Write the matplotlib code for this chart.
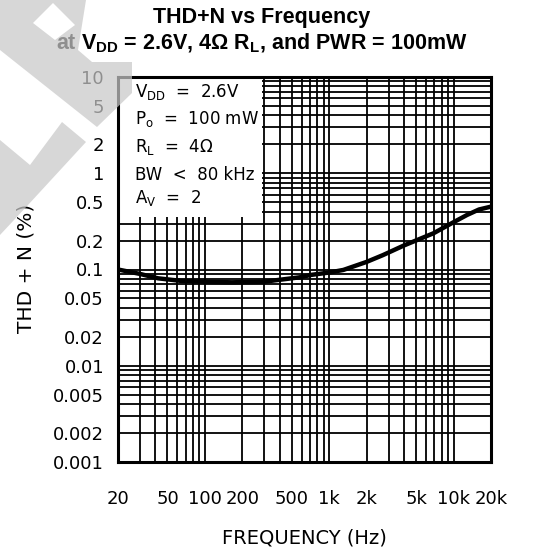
import matplotlib
matplotlib.use("Agg")
import matplotlib.pyplot as plt
from matplotlib.patches import Polygon, Rectangle

# THD+N curve
freq = [20, 30, 42, 65, 100, 165, 300, 580, 720, 1000, 1300, 2000, 2700,
        4000, 6900, 10000, 12800, 16000, 20000]
thdn = [0.100, 0.090, 0.081, 0.076, 0.0745, 0.0736, 0.0747, 0.083, 0.088,
        0.093, 0.099, 0.120, 0.141, 0.178, 0.238, 0.310, 0.368, 0.420, 0.450]

# tick labels
x_ticks = [20, 50, 100, 200, 500, 1000, 2000, 5000, 10000, 20000]
x_labels = ['20', '50', '100', '200', '500', '1k', '2k', '5k', '10k', '20k']
y_ticks = [0.001, 0.002, 0.005, 0.01, 0.02, 0.05, 0.1, 0.2, 0.5, 1, 2, 5, 10]
y_labels = ['0.001', '0.002', '0.005', '0.01', '0.02', '0.05', '0.1', '0.2',
            '0.5', '1', '2', '5', '10']

# conditions in the box
conditions = [r'$\mathrm{V_{DD}}$  =  2.6V',
              r'$\mathrm{P_o}$  =  100 mW',
              r'$\mathrm{R_L}$  =  4$\Omega$',
              'BW  <  80 kHz',
              r'$\mathrm{A_V}$  =  2']

plt.rcParams['font.family'] = 'DejaVu Sans'
plt.rcParams['mathtext.fontset'] = 'custom'
plt.rcParams['mathtext.rm'] = 'DejaVu Sans'
plt.rcParams['mathtext.bf'] = 'Liberation Sans:bold'

W, H = 543, 554
fig = plt.figure(figsize=(W / 100, H / 100), dpi=100)
ax = fig.add_axes([118 / W, (H - 462) / H, 373 / W, 385 / H])

ax.set_xscale('log')
ax.set_yscale('log')
ax.set_xlim(20, 20000)
ax.set_ylim(0.001, 10)

# grid at every 1..9 of each decade
x_grid = [m * 10 ** e for e in range(1, 5) for m in range(1, 10)
          if 20 <= m * 10 ** e <= 20000]
y_grid = [m * 10.0 ** e for e in range(-3, 2) for m in range(1, 10)
          if m * 10.0 ** e <= 10]
ax.set_xticks(x_grid, minor=True)
ax.set_yticks(y_grid, minor=True)
ax.set_xticks(x_ticks)
ax.set_xticklabels(x_labels)
ax.set_yticks(y_ticks)
ax.set_yticklabels(y_labels)
ax.tick_params(which='both', length=0)
ax.tick_params(axis='x', pad=20, labelsize=13)
ax.tick_params(axis='y', pad=10, labelsize=13)
ax.grid(which='both', color='black', linewidth=1.3)
ax.set_axisbelow(True)
for s in ax.spines.values():
    s.set_linewidth(2.2)
    s.set_zorder(5)

ax.plot(freq, thdn, color='black', linewidth=3.2, solid_capstyle='round', zorder=3)

# white box with the test conditions
ax.add_patch(Rectangle((0, (462 - 217) / 385), (262 - 118) / 373, 1,
                       transform=ax.transAxes, facecolor='white',
                       edgecolor='none', zorder=2))
for i, line in enumerate(conditions):
    ypx = [92, 119, 147, 175, 198][i]
    fig.text(135 / W, 1 - ypx / H, line, fontsize=12, va='center',
             ha='left', zorder=4)

fig.text(304 / W, 1 - 538 / H, 'FREQUENCY (Hz)', fontsize=14,
         ha='center', va='center')
fig.text(26 / W, 1 - 268 / H, 'THD + N (%)', fontsize=14.5, rotation=90,
         ha='center', va='center')

fig.text(262 / W, 1 - 18 / H, 'THD+N vs Frequency', fontsize=15.5,
         family='Liberation Sans', weight='bold', ha='center', va='center')
fig.text(262 / W, 1 - 43 / H,
         r'at $\mathbf{V_{DD}}$ = 2.6V, 4$\mathbf{\Omega}$ $\mathbf{R_L}$, and PWR = 100mW',
         fontsize=15.5, family='Liberation Sans', weight='bold',
         ha='center', va='center')

# grey watermark fragment in the top-left corner
def px(points):
    return [(x / 100, (H - y) / 100) for x, y in points]

wm = dict(transform=fig.dpi_scale_trans, facecolor='#c8c8c8', alpha=0.72,
          edgecolor='none', zorder=20)
fig.patches.append(Polygon(px([(0, 0), (86, 0), (78, 50), (92, 62), (132, 62),
                               (132, 93), (97, 127), (0, 50)]), **wm))
fig.patches.append(Polygon(px([(62, 122), (86, 142), (28, 205), (0, 235),
                               (0, 140), (30, 165)]), **wm))
fig.patches.append(Polygon(px([(33, 23), (53, 3), (75, 25), (55, 40)]),
                           transform=fig.dpi_scale_trans, facecolor='white',
                           edgecolor='none', zorder=21))

fig.savefig('out.png', dpi=100)
